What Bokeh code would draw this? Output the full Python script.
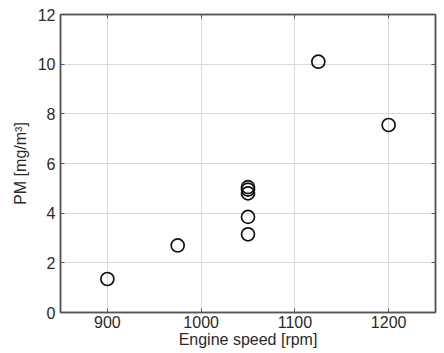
from bokeh.plotting import figure
from bokeh.models import Range1d, FixedTicker, LinearAxis, CustomJSTickFormatter
from bokeh.embed import file_html
from bokeh.resources import INLINE

engine_speed = [900, 975, 1050, 1050, 1050, 1050, 1050, 1125, 1200]
pm = [1.35, 2.7, 3.15, 3.85, 4.8, 4.95, 5.05, 10.1, 7.55]
x_ticks = [900, 1000, 1100, 1200]
y_ticks = [0, 2, 4, 6, 8, 10, 12]

FONT = "Liberation Sans"
TXT = "#2a2a2a"
AX = "#555555"

p = figure(width=437, height=353, output_backend="svg", toolbar_location=None,
           x_range=Range1d(850, 1250), y_range=Range1d(0, 12),
           min_border_left=60, min_border_right=2, min_border_top=14, min_border_bottom=41,
           x_axis_label="Engine speed [rpm]", y_axis_label="PM [mg/m³]")

p.outline_line_color = AX
p.outline_line_width = 1.5
p.background_fill_color = "white"
p.border_fill_color = "white"

for ax in (p.xaxis[0], p.yaxis[0]):
    ax.major_label_text_font = FONT
    ax.major_label_text_font_size = "16px"
    ax.major_label_text_color = TXT
    ax.axis_label_text_font = FONT
    ax.axis_label_text_font_size = "16px"
    ax.axis_label_text_font_style = "normal"
    ax.axis_label_text_color = TXT
    ax.axis_line_color = AX
    ax.axis_line_width = 1.5
    ax.major_tick_line_color = AX
    ax.major_tick_in = 4
    ax.major_tick_out = 0
    ax.minor_tick_line_color = None

p.xaxis.major_label_standoff = 3
p.xaxis.axis_label_standoff = 0
p.yaxis.major_label_standoff = 5
p.yaxis.axis_label_standoff = 6

p.xaxis.ticker = FixedTicker(ticks=x_ticks)
p.yaxis.ticker = FixedTicker(ticks=y_ticks)

# mirrored ticks on top and right (no labels)
top_ax = LinearAxis(ticker=FixedTicker(ticks=x_ticks))
right_ax = LinearAxis(ticker=FixedTicker(ticks=y_ticks))
for ax in (top_ax, right_ax):
    ax.formatter = CustomJSTickFormatter(code="return '';")
    ax.major_label_standoff = 0
    ax.axis_line_color = AX
    ax.axis_line_width = 1.5
    ax.major_tick_line_color = AX
    ax.major_tick_in = 4
    ax.major_tick_out = 0
    ax.minor_tick_line_color = None
p.add_layout(top_ax, "above")
p.add_layout(right_ax, "right")

p.xgrid.ticker = FixedTicker(ticks=x_ticks)
p.ygrid.ticker = FixedTicker(ticks=y_ticks)
p.grid.grid_line_color = "#d9d9d9"
p.grid.grid_line_width = 1

p.scatter(engine_speed, pm, size=13, marker="circle", fill_color=None,
          line_color="#111111", line_width=1.7)

out = file_html(p, INLINE)
open("out.html", "w").write(out)
